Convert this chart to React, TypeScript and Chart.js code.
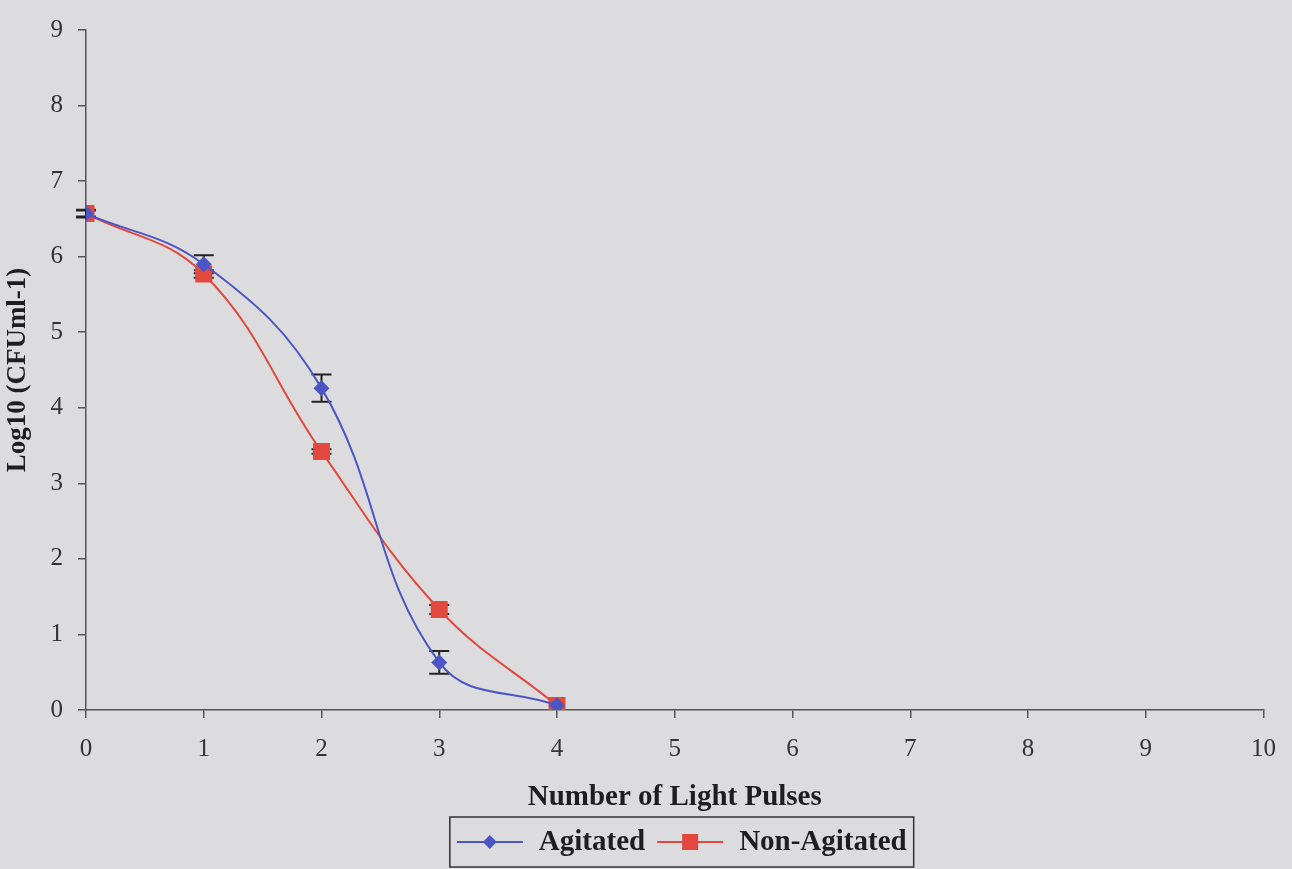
import React, { useEffect, useRef } from 'react';
import { Chart, registerables } from 'chart.js';

Chart.register(...registerables);

const pulses = [0, 1, 2, 3, 4];
const seriesNames = ['Agitated', 'Non-Agitated'];
const agitated = [6.57, 5.9, 4.26, 0.63, 0.06];
const agitatedErr = [0.05, 0.12, 0.18, 0.15, 0];
const nonAgitated = [6.57, 5.77, 3.42, 1.33, 0.06];
const nonAgitatedErr = [0.04, 0.05, 0.03, 0.06, 0];
const xTicks = [0, 1, 2, 3, 4, 5, 6, 7, 8, 9, 10];
const yTicks = [0, 1, 2, 3, 4, 5, 6, 7, 8, 9];
const xTitle = 'Number of Light Pulses';
const yTitle = 'Log10 (CFUml-1)';

const BG = '#dcdcde';
const AXIS = '#555555';
const BLUE = '#4b55c4';
const RED = '#e2483e';
const SERIF = '"Liberation Serif", "Times New Roman", serif';

const errorBarPlugin = {
  id: 'errorBars',
  beforeDatasetsDraw(chart: any) {
    const ctx = chart.ctx;
    const xs = chart.scales.x;
    const ys = chart.scales.y;
    chart.data.datasets.forEach((ds: any) => {
      const errs: number[] = ds.errors || [];
      ctx.save();
      ctx.strokeStyle = '#222';
      ctx.lineWidth = 2;
      ds.data.forEach((pt: any, i: number) => {
        const e = errs[i];
        if (!e) return;
        const x = xs.getPixelForValue(pt.x);
        const yTop = ys.getPixelForValue(pt.y + e);
        const yBot = ys.getPixelForValue(pt.y - e);
        const cap = 10;
        ctx.beginPath();
        ctx.moveTo(x, yTop);
        ctx.lineTo(x, yBot);
        ctx.moveTo(x - cap, yTop);
        ctx.lineTo(x + cap, yTop);
        ctx.moveTo(x - cap, yBot);
        ctx.lineTo(x + cap, yBot);
        ctx.stroke();
      });
      ctx.restore();
    });
  },
};

const boxLegendPlugin = {
  id: 'boxLegend',
  afterDraw(chart: any) {
    const ctx = chart.ctx;
    const ca = chart.chartArea;
    ctx.save();
    ctx.font = `bold 29px ${SERIF}`;
    const symW = 66;
    const gap = 16;
    const itemGap = 12;
    const padX = 7;
    const items = chart.data.datasets.map((ds: any) => ({
      ds,
      w: ctx.measureText(ds.label).width,
    }));
    let total = padX * 2 + itemGap * (items.length - 1);
    items.forEach((it: any) => (total += symW + gap + it.w));
    const center = (ca.left + ca.right) / 2 + 7;
    const left = center - total / 2;
    const top = chart.height - 52;
    const h = 50;
    ctx.strokeStyle = '#333';
    ctx.lineWidth = 1.5;
    ctx.strokeRect(left, top, total, h);
    const midY = top + h / 2;
    let x = left + padX;
    items.forEach((it: any) => {
      const ds = it.ds;
      ctx.strokeStyle = ds.borderColor;
      ctx.lineWidth = 2;
      ctx.beginPath();
      ctx.moveTo(x, midY);
      ctx.lineTo(x + symW, midY);
      ctx.stroke();
      const cx = x + symW / 2;
      ctx.fillStyle = ds.pointBackgroundColor;
      ctx.beginPath();
      if (ds.pointStyle === 'rectRot') {
        const r = 7;
        ctx.moveTo(cx - r, midY);
        ctx.lineTo(cx, midY - r);
        ctx.lineTo(cx + r, midY);
        ctx.lineTo(cx, midY + r);
        ctx.closePath();
      } else {
        ctx.rect(cx - 8, midY - 8, 16, 16);
      }
      ctx.fill();
      ctx.fillStyle = '#1e1e1e';
      ctx.textBaseline = 'middle';
      ctx.textAlign = 'left';
      ctx.fillText(ds.label, x + symW + gap, midY + 1);
      x += symW + gap + it.w + itemGap;
    });
    ctx.restore();
  },
};

export default function App() {
  const canvasRef = useRef<HTMLCanvasElement | null>(null);

  useEffect(() => {
    document.body.style.margin = '0';
    document.body.style.background = BG;
    const canvas = canvasRef.current;
    if (!canvas) return;
    const chart = new Chart(canvas, {
      type: 'line',
      data: {
        datasets: [
          {
            label: seriesNames[0],
            data: pulses.map((p, i) => ({ x: p, y: agitated[i] })),
            errors: agitatedErr,
            borderColor: BLUE,
            backgroundColor: BLUE,
            pointBackgroundColor: BLUE,
            pointBorderColor: BLUE,
            pointStyle: 'rectRot',
            pointRadius: 8,
            pointBorderWidth: 0,
            borderWidth: 2,
            tension: 0.4,
            fill: false,
          } as any,
          {
            label: seriesNames[1],
            data: pulses.map((p, i) => ({ x: p, y: nonAgitated[i] })),
            errors: nonAgitatedErr,
            borderColor: RED,
            backgroundColor: RED,
            pointBackgroundColor: RED,
            pointBorderColor: RED,
            pointStyle: 'rect',
            pointRadius: 12,
            pointBorderWidth: 0,
            borderWidth: 2,
            tension: 0.4,
            fill: false,
          } as any,
        ],
      },
      options: {
        animation: false,
        responsive: false,
        maintainAspectRatio: false,
        layout: { padding: { top: 25, right: 22, bottom: 54, left: 0 } },
        plugins: {
          legend: { display: false },
          tooltip: { enabled: false },
        },
        scales: {
          x: {
            type: 'linear',
            min: 0,
            max: 10,
            afterFit: (s: any) => {
              s.height = 105;
            },
            afterBuildTicks: (s: any) => {
              s.ticks = xTicks.map((v) => ({ value: v }));
            },
            grid: {
              drawOnChartArea: false,
              drawTicks: true,
              tickLength: 8,
              color: AXIS,
              lineWidth: 1.5,
            },
            border: { display: true, color: AXIS, width: 1.5 },
            ticks: {
              color: '#333',
              padding: 16,
              maxRotation: 0,
              font: { family: SERIF, size: 25 },
            },
            title: {
              display: true,
              text: xTitle,
              color: '#1e1e1e',
              font: { family: SERIF, size: 29, weight: 'bold' },
              padding: { top: 0, bottom: 0 },
            },
          },
          y: {
            type: 'linear',
            min: 0,
            max: 9,
            afterFit: (s: any) => {
              s.width = 86;
            },
            afterBuildTicks: (s: any) => {
              s.ticks = yTicks.map((v) => ({ value: v }));
            },
            grid: {
              drawOnChartArea: false,
              drawTicks: true,
              tickLength: 8,
              color: AXIS,
              lineWidth: 1.5,
            },
            border: { display: true, color: AXIS, width: 1.5 },
            ticks: {
              color: '#333',
              padding: 15,
              font: { family: SERIF, size: 25 },
            },
            title: {
              display: true,
              text: yTitle,
              color: '#1e1e1e',
              font: { family: SERIF, size: 27, weight: 'bold' },
              padding: { top: 2, bottom: 0 },
            },
          },
        },
      } as any,
      plugins: [errorBarPlugin, boxLegendPlugin],
    });
    return () => chart.destroy();
  }, []);

  return (
    <div style={{ width: 1292, height: 869, background: BG }}>
      <canvas ref={canvasRef} width={1292} height={869} style={{ display: 'block' }} />
    </div>
  );
}
